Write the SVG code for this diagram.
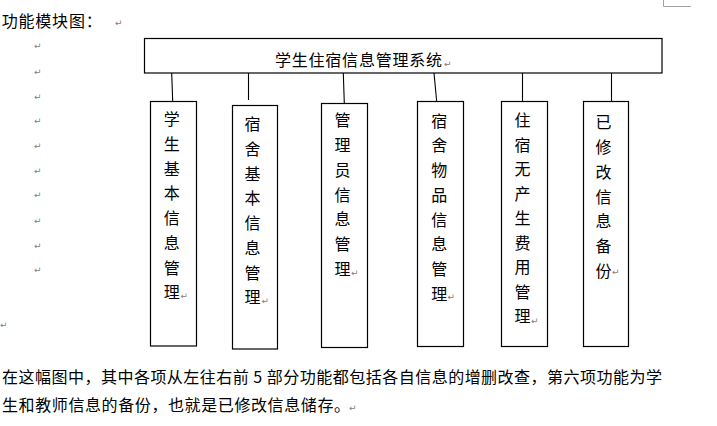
<svg xmlns="http://www.w3.org/2000/svg" width="717" height="426" viewBox="0 0 717 426">
<style>
text{font-family:"Noto Sans CJK SC","Noto Sans CJK TC",sans-serif;font-size:16px;fill:#000}
.pm,.pm text{font-family:"DejaVu Sans",sans-serif;font-size:9px;fill:#808080}
.box{fill:#fff;stroke:#000;stroke-width:1.2}
.v{text-anchor:middle}
#connectors line{stroke:#000;stroke-width:1.1}
</style>
<rect width="717" height="426" fill="#fff"/>
<path d="M663.5 0V6.5H691" fill="none" stroke="#a0a0a0" stroke-width="1"/>
<text x="1.7" y="27" textLength="100" lengthAdjust="spacing">功能模块图：</text>
<text class="pm" x="115" y="26">↵</text>
<g class="pm">
<text x="34" y="49">↵</text>
<text x="34" y="74.5">↵</text>
<text x="34" y="99.5">↵</text>
<text x="34" y="123.5">↵</text>
<text x="34" y="149">↵</text>
<text x="34" y="173.5">↵</text>
<text x="34" y="198">↵</text>
<text x="34" y="223.5">↵</text>
<text x="34" y="249">↵</text>
<text x="34" y="273">↵</text>
<text x="0" y="328">↵</text>
</g>
<g id="connectors">
<line x1="171.7" y1="73" x2="172.7" y2="101.5"/>
<line x1="248.5" y1="73" x2="248.5" y2="100"/>
<line x1="343.3" y1="73" x2="344.3" y2="103.5"/>
<line x1="434" y1="73" x2="436.7" y2="101.5"/>
<line x1="522.5" y1="73" x2="522.5" y2="101.5"/>
<line x1="611.5" y1="73" x2="611.5" y2="101"/>
</g>
<g id="root">
<rect class="box" x="144.5" y="38.5" width="517.5" height="34.5"/>
<text x="275" y="66" textLength="167" lengthAdjust="spacing">学生住宿信息管理系统</text>
<text class="pm" x="444" y="67">↵</text>
</g>
<g id="n1">
<rect class="box" x="150.5" y="101.5" width="46" height="244.5"/>
<text class="v" x="171.7" y="125"><tspan x="171.7">学</tspan><tspan x="171.7" dy="24.76">生</tspan><tspan x="171.7" dy="24.76">基</tspan><tspan x="171.7" dy="24.76">本</tspan><tspan x="171.7" dy="24.76">信</tspan><tspan x="171.7" dy="24.76">息</tspan><tspan x="171.7" dy="24.76">管</tspan><tspan x="171.7" dy="24.76">理</tspan></text>
<text class="pm" x="180.5" y="299">↵</text>
</g>
<g id="n2">
<rect class="box" x="232.5" y="105.5" width="45" height="243.5"/>
<text class="v" x="252.5" y="130"><tspan x="252.5">宿</tspan><tspan x="252.5" dy="24.76">舍</tspan><tspan x="252.5" dy="24.76">基</tspan><tspan x="252.5" dy="24.76">本</tspan><tspan x="252.5" dy="24.76">信</tspan><tspan x="252.5" dy="24.76">息</tspan><tspan x="252.5" dy="24.76">管</tspan><tspan x="252.5" dy="24.76">理</tspan></text>
<text class="pm" x="261.5" y="304">↵</text>
</g>
<g id="n3">
<rect class="box" x="321.5" y="103.5" width="46" height="244"/>
<text class="v" x="342.5" y="126.3"><tspan x="342.5">管</tspan><tspan x="342.5" dy="24.76">理</tspan><tspan x="342.5" dy="24.76">员</tspan><tspan x="342.5" dy="24.76">信</tspan><tspan x="342.5" dy="24.76">息</tspan><tspan x="342.5" dy="24.76">管</tspan><tspan x="342.5" dy="24.76">理</tspan></text>
<text class="pm" x="351" y="276">↵</text>
</g>
<g id="n4">
<rect class="box" x="417.5" y="101.5" width="46" height="245"/>
<text class="v" x="439.2" y="126.6"><tspan x="439.2">宿</tspan><tspan x="439.2" dy="24.76">舍</tspan><tspan x="439.2" dy="24.76">物</tspan><tspan x="439.2" dy="24.76">品</tspan><tspan x="439.2" dy="24.76">信</tspan><tspan x="439.2" dy="24.76">息</tspan><tspan x="439.2" dy="24.76">管</tspan><tspan x="439.2" dy="24.76">理</tspan></text>
<text class="pm" x="447.5" y="300">↵</text>
</g>
<g id="n5">
<rect class="box" x="501.5" y="101.5" width="46" height="245"/>
<text class="v" x="522.5" y="126"><tspan x="522.5">住</tspan><tspan x="522.5" dy="24.5">宿</tspan><tspan x="522.5" dy="24.5">无</tspan><tspan x="522.5" dy="24.5">产</tspan><tspan x="522.5" dy="24.5">生</tspan><tspan x="522.5" dy="24.5">费</tspan><tspan x="522.5" dy="24.5">用</tspan><tspan x="522.5" dy="24.5">管</tspan><tspan x="522.5" dy="24.5">理</tspan></text>
<text class="pm" x="531" y="324">↵</text>
</g>
<g id="n6">
<rect class="box" x="583.5" y="101.5" width="45" height="245"/>
<text class="v" x="603.5" y="128.3"><tspan x="603.5">已</tspan><tspan x="603.5" dy="24.76">修</tspan><tspan x="603.5" dy="24.76">改</tspan><tspan x="603.5" dy="24.76">信</tspan><tspan x="603.5" dy="24.76">息</tspan><tspan x="603.5" dy="24.76">备</tspan><tspan x="603.5" dy="24.76">份</tspan></text>
<text class="pm" x="612" y="275">↵</text>
</g>
<text x="2" y="383" textLength="660" lengthAdjust="spacing">在这幅图中，其中各项从左往右前 5 部分功能都包括各自信息的增删改查，第六项功能为学</text>
<text x="2" y="410.5" textLength="348" lengthAdjust="spacing">生和教师信息的备份，也就是已修改信息储存。</text>
<text class="pm" x="349" y="411">↵</text>
</svg>
